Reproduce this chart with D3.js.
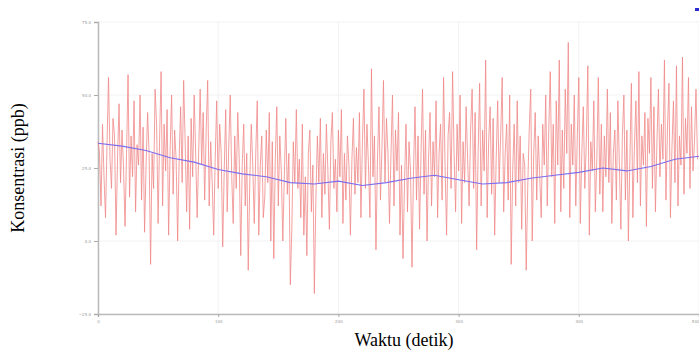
<!DOCTYPE html>
<html>
<head>
<meta charset="utf-8">
<script src="https://cdn.jsdelivr.net/npm/d3@7"></script>
<style>
  body { margin: 0; background: #fff; }
  svg { display: block; }
</style>
</head>
<body>
<svg id="chart" width="699" height="352"></svg>
<script>
// raw readings, one every 1.25 s
var rawValues = [
  34, 30, 12, 40, 22, 8, 33, 56, 28, 18, 42, 36, 2, 28, 47, 20, 38, 25, 5, 30, 57, 15, 36, 22, 48,
  10, 33, 26, 50, 14, 39, 3, 26, 44, 30, -8, 30, 18, 52, 40, 6, 35, 58, 12, 40, 24, 45, 2, 31, 50,
  16, 38, 28, 0, 28, 46, 20, 55, 34, 10, 36, 4, 42, 22, 50, 30, 8, 30, 52, 26, 44, 14, 38, 55, 12,
  34, 20, 2, 28, 48, 18, 40, 30, -2, 24, 45, 10, 32, 50, 22, 6, 36, 18, 44, 28, -5, 26, 40, 12, 30,
  -10, 20, 40, 26, 6, 30, 48, 2, 26, 36, 8, 15, 38, 20, 44, 0, 34, -6, 28, 46, 12, 36, 24, 0, 22,
  42, 16, 30, -15, 4, 34, 20, 45, 18, 28, 8, 40, 2, 22, -5, 30, 38, 10, 26, -18, 14, 36, 20, 42, 8,
  30, 16, 40, 24, 4, 34, 44, 18, 28, 10, 38, 22, 45, 6, 30, 14, 36, 26, 2, 28, 42, 16, 32, 20, 44,
  8, 34, 52, 18, 40, 26, 8, 59, 22, 36, -3, 28, 46, 14, 32, 55, 20, 42, 30, 6, 30, 50, 12, 38, 24,
  44, 2, 26, -6, 20, 40, 10, 34, 24, -9, 24, 46, 14, 36, 4, 30, 52, 16, 38, 0, 28, 44, 12, 34, 22,
  48, 8, 30, 40, 14, 56, 26, 2, 36, 44, 18, 58, 30, 10, 40, 24, 50, 6, 34, 20, 46, 28, 12, 38, 52,
  18, 44, -3, 30, 54, 12, 38, 24, 62, 8, 34, 46, 16, 42, 2, 28, 48, 20, 36, 56, 10, 30, 40, 14, 50,
  -8, 24, 40, 12, 48, 20, 36, 4, 30, 26, -10, 18, 38, 52, 0, 30, 44, 14, 36, 22, 8, 40, 26, 50, 12,
  38, 58, 22, 40, 6, 48, 26, 62, 10, 38, 18, 52, 30, 68, 8, 40, 26, 50, 12, 36, 56, 6, 30, 46, 18,
  34, 60, 2, 34, 24, 48, 10, 28, 56, 16, 40, 10, 36, 22, 52, 20, 44, 6, 30, 38, 14, 48, 26, 4, 36,
  50, 14, 38, 0, 28, 54, 8, 32, 48, 20, 58, 12, 36, 26, 44, 5, 42, 30, 56, 18, 46, 10, 34, 52, 22,
  40, 28, 62, 14, 38, 54, 8, 32, 48, 20, 60, 12, 36, 26, 63, 16, 42, 30, 56, 18, 46, 24, 34, 52, 28
];
var rawStep = 1.25;

// smoothed line, read every 20 s
var smoothTimes = [0, 20, 40, 60, 80, 100, 120, 140, 160, 180, 200, 220, 240, 260, 280,
                   300, 320, 340, 360, 380, 400, 420, 440, 460, 480, 500];
var smoothValues = [33.5, 32.5, 31, 28.5, 27, 24.5, 23, 22, 20, 19.5, 20.5, 19, 20, 21.5, 22.5,
                    21, 19.5, 20, 21.5, 22.5, 23.5, 25, 24, 25.5, 28, 29];

var yTicks = [-25, 0, 25, 50, 75];
var xTicks = [0, 100, 200, 300, 400, 500];

var svg = d3.select("#chart");
var margin = {left: 98, right: 0, top: 22, bottom: 38};
var width = 699 - margin.left - margin.right;
var height = 352 - margin.top - margin.bottom;

var x = d3.scaleLinear().domain([0, 500]).range([margin.left, margin.left + width]);
var y = d3.scaleLinear().domain([-25, 75]).range([margin.top + height, margin.top]);

// faint grid
svg.append("g").selectAll("line").data(yTicks).enter().append("line")
    .attr("x1", margin.left).attr("x2", margin.left + width)
    .attr("y1", function (d) { return y(d); }).attr("y2", function (d) { return y(d); })
    .attr("stroke", "#f2f2f2").attr("stroke-width", 1);
svg.append("g").selectAll("line").data(xTicks).enter().append("line")
    .attr("y1", margin.top).attr("y2", margin.top + height)
    .attr("x1", function (d) { return x(d); }).attr("x2", function (d) { return x(d); })
    .attr("stroke", "#f2f2f2").attr("stroke-width", 1);

var yAxis = svg.append("g")
    .attr("transform", "translate(" + margin.left + ",0)")
    .call(d3.axisLeft(y).tickValues(yTicks).tickFormat(d3.format(".1f")).tickSize(4));
var xAxis = svg.append("g")
    .attr("transform", "translate(0," + (margin.top + height) + ")")
    .call(d3.axisBottom(x).tickValues(xTicks).tickSize(3));

[yAxis, xAxis].forEach(function (g) {
    g.select(".domain").attr("stroke", "#bbb").attr("stroke-width", 1.5);
    g.selectAll(".tick line").attr("stroke", "#aaa");
    g.selectAll("text").attr("fill", "#999").style("font-size", "4px")
        .style("font-family", "DejaVu Sans");
});
// last x label sits on the right edge
xAxis.selectAll(".tick").filter(function (d) { return d === 500; })
    .select("text").attr("text-anchor", "end");

var redLine = d3.line()
    .x(function (d, i) { return x(i * rawStep); })
    .y(function (d) { return y(d); });
svg.append("path").datum(rawValues)
    .attr("d", redLine)
    .attr("fill", "none")
    .attr("stroke", "#f08888")
    .attr("stroke-width", 0.8);

var blueLine = d3.line()
    .x(function (d, i) { return x(smoothTimes[i]); })
    .y(function (d) { return y(d); });
svg.append("path").datum(smoothValues)
    .attr("d", blueLine)
    .attr("fill", "none")
    .attr("stroke", "#7b6cf0")
    .attr("stroke-width", 1.1);

// legend marker, cut at the edge
svg.append("rect").attr("x", 695).attr("y", 8).attr("width", 4).attr("height", 3).attr("fill", "#2a2ad0");

svg.append("text")
    .attr("transform", "translate(24," + 168 + ") rotate(-90)")
    .attr("text-anchor", "middle")
    .style("font-family", "Liberation Serif")
    .style("font-size", "18px")
    .text("Konsentrasi (ppb)");

svg.append("text")
    .attr("x", 404).attr("y", 346)
    .attr("text-anchor", "middle")
    .style("font-family", "Liberation Serif")
    .style("font-size", "18px")
    .text("Waktu (detik)");
</script>
</body>
</html>
